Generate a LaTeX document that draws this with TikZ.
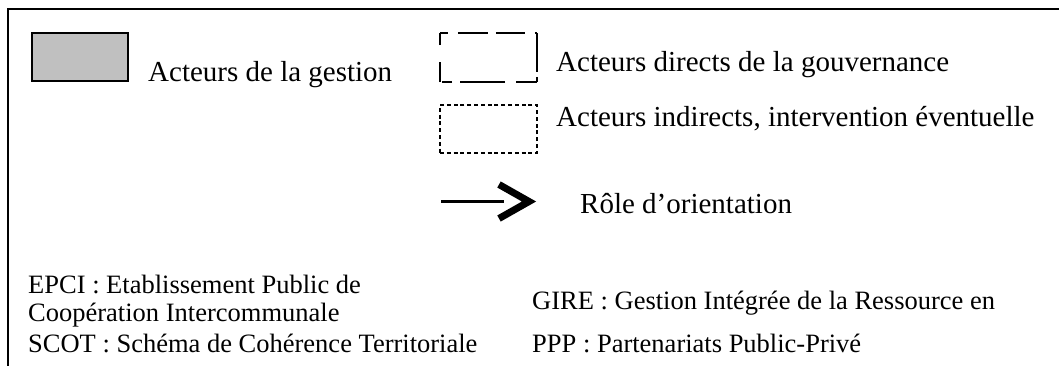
\documentclass[tikz,border=0pt]{standalone}
\usepackage{fontspec}
\setmainfont{Liberation Serif}
\begin{document}
\begin{tikzpicture}[x=1pt,y=-1pt,
  toptext/.style={anchor=base west,inner sep=0pt,font=\fontsize{29}{34}\selectfont},
  bottext/.style={anchor=base west,inner sep=0pt,font=\fontsize{26.5}{31}\selectfont},
  gestbox/.style={draw=black,line width=1.5pt,fill={rgb,255:red,192;green,192;blue,192},minimum width=96pt,minimum height=48pt,inner sep=0pt},
  ghostbox/.style={draw=none,minimum width=97pt,minimum height=49pt,inner sep=0pt},
  dotbox/.style={draw=black,line width=2.2pt,dash pattern=on 4pt off 2.8pt,minimum width=97pt,minimum height=48pt,inner sep=0pt},
  dashedge/.style={line width=1.6pt,line cap=butt}
]
\useasboundingbox (0,0) rectangle (1059,365);
\clip (0,0) rectangle (1059,365);
\fill[white] (0,0) rectangle (1059,365);
% frame
\draw[line width=2pt] (8,9) rectangle (1090,400);

% legend: management actors
\node[gestbox] (gest) at (80,57) {};
\node[toptext] (tgest) at (148,81) {Acteurs de la gestion};

% legend: direct governance actors (long-dash box)
\node[ghostbox] (dir) at (488.5,57.5) {};
\draw[dashedge,line width=2.6pt,dash pattern=on 8pt off 10pt on 30pt off 8pt on 29pt off 10pt] (dir.north west) -- (dir.north east);
\draw[dashedge,dash pattern=on 39pt off 5pt on 5pt off 10pt] (dir.north east) -- (dir.south east);
\draw[dashedge,line width=2pt,dash pattern=on 21pt off 11pt on 45pt off 8pt on 10pt off 5pt] (dir.south east) -- (dir.south west);
\draw[dashedge,dash pattern=on 20pt off 17pt on 12pt off 5pt] (dir.south west) -- (dir.north west);
\node[toptext] (tdir) at (556,71) {Acteurs directs de la gouvernance};

% legend: indirect actors (dotted box)
\node[dotbox] (ind) at (488.5,129) {};
\node[toptext] (tind) at (556,126) {Acteurs indirects, intervention éventuelle};

% legend: orientation role
\coordinate (astart) at (441,201.5);
\coordinate (aend) at (504,201.5);
\coordinate (ctop) at (499,184.5);
\coordinate (ctip) at (529,201.5);
\coordinate (cbot) at (499,218.5);
\draw[line width=3pt] (astart) -- (aend);
\draw[line width=7pt,miter limit=10] (ctop) -- (ctip) -- (cbot);
\node[toptext] (tori) at (580,213) {Rôle d’orientation};

% abbreviations
\node[bottext] (epci1) at (28,293) {EPCI : Etablissement Public de};
\node[bottext] (epci2) at (28,321) {Coopération Intercommunale};
\node[bottext] (scot) at (28,352) {SCOT : Schéma de Cohérence Territoriale};
\node[bottext] (gire) at (532,309) {GIRE : Gestion Intégrée de la Ressource en};
\node[bottext] (ppp) at (532,352) {PPP : Partenariats Public-Privé};
\end{tikzpicture}
\end{document}
